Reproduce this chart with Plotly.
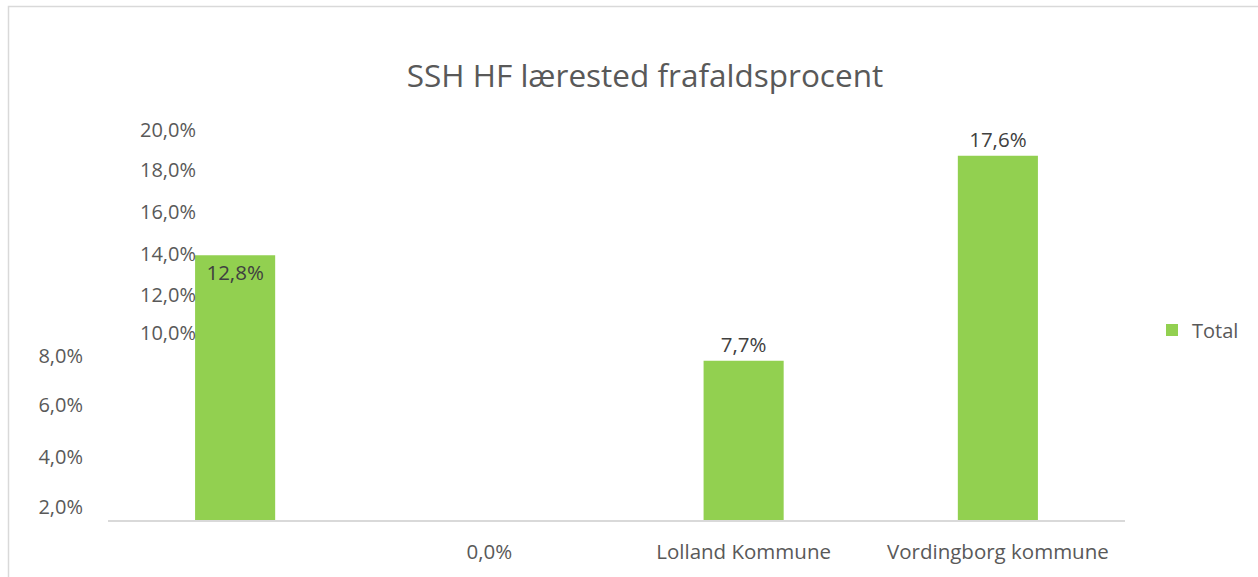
import plotly.graph_objects as go

# --- data ---
categories = ["Kategori 1", "Kategori 2", "Lolland Kommune", "Vordingborg kommune"]
category_labels = ["", "0,0%", "Lolland Kommune", "Vordingborg kommune"]
values = [12.8, 0.0, 7.7, 17.6]          # frafaldsprocent (%)
series_name = "Total"
title_text = "SSH HF lærested frafaldsprocent"

# tick labels as they appear (displaced) in the reference
upper_tick_labels = ["20,0%", "18,0%", "16,0%", "14,0%", "12,0%", "10,0%"]
upper_tick_vals = [18.85, 16.92, 14.89, 12.86, 10.87, 9.04]
lower_tick_labels = ["8,0%", "6,0%", "4,0%", "2,0%"]
lower_tick_vals = [7.93, 5.56, 3.05, 0.63]

W, H = 1258, 577
L, R, T, B = 108, 133, 100, 57
YMAX = 20.3
FONT = "Open Sans"
GREY = "#595959"
LABEL = "#404040"
GREEN = "#92d050"

text_pos = ["inside" if i == 0 else ("none" if v == 0 else "outside") for i, v in enumerate(values)]

fig = go.Figure()
fig.add_trace(go.Bar(
    x=categories, y=values, name=series_name,
    marker=dict(color=GREEN, line=dict(width=0)),
    texttemplate="%{y:.1f}%", textposition=text_pos,
    insidetextanchor="end",
    textfont=dict(family=FONT, size=20.5, color=LABEL),
    outsidetextfont=dict(family=FONT, size=20.5, color=LABEL),
    insidetextfont=dict(family=FONT, size=20.5, color=LABEL),
    constraintext="none",
    cliponaxis=False, showlegend=True,
))
# carrier (draws nothing) so that the second tick-label axis is rendered
fig.add_trace(go.Scatter(
    x=categories, y=values, yaxis="y2", mode="none",
    showlegend=False, hoverinfo="skip",
))

pw = W - L - R
ph = H - T - B

fig.update_layout(
    width=W, height=H,
    margin=dict(l=L, r=R, t=T, b=B),
    paper_bgcolor="white", plot_bgcolor="white",
    separators=",.",
    bargap=0.685,
    font=dict(family=FONT, color=GREY, size=20),
    title=dict(text=title_text, x=645 / W, xanchor="center", y=1 - 76 / H, yanchor="middle",
               font=dict(family=FONT, size=31.5, color=GREY)),
    xaxis=dict(
        type="category", tickvals=categories, ticktext=category_labels,
        showline=True, linecolor="#d9d9d9", linewidth=1.5,
        showgrid=False, zeroline=False, ticks="",
        ticklabelstandoff=13,
        tickfont=dict(family=FONT, size=20.5, color=GREY),
    ),
    yaxis=dict(
        range=[0, YMAX], showgrid=False, zeroline=False, showline=False,
        tickvals=lower_tick_vals, ticktext=lower_tick_labels, ticks="",
        ticklabelstandoff=24,
        tickfont=dict(family=FONT, size=20, color=GREY),
    ),
    yaxis2=dict(
        range=[0, YMAX], overlaying="y", anchor="free", side="left",
        position=(196 - L) / pw,
        showgrid=False, zeroline=False, showline=False,
        tickvals=upper_tick_vals, ticktext=upper_tick_labels, ticks="",
        tickfont=dict(family=FONT, size=20, color=GREY),
    ),
    legend=dict(x=(1152 - L) / pw, xanchor="left", y=(520 - 330) / ph, yanchor="middle",
                font=dict(family=FONT, size=20, color=GREY), bgcolor="rgba(0,0,0,0)"),
    shapes=[dict(
        type="rect", xref="paper", yref="paper",
        x0=(8.5 - L) / pw, x1=(W + 5 - L) / pw,
        y0=(H - B - (H + 5)) / ph, y1=(H - B - 6.5) / ph,
        line=dict(color="#d9d9d9", width=1.5), fillcolor="rgba(0,0,0,0)", layer="below",
    )],
)

fig.write_html("out.html", config={"displayModeBar": False},
               post_script="document.body.style.margin='0px';")
